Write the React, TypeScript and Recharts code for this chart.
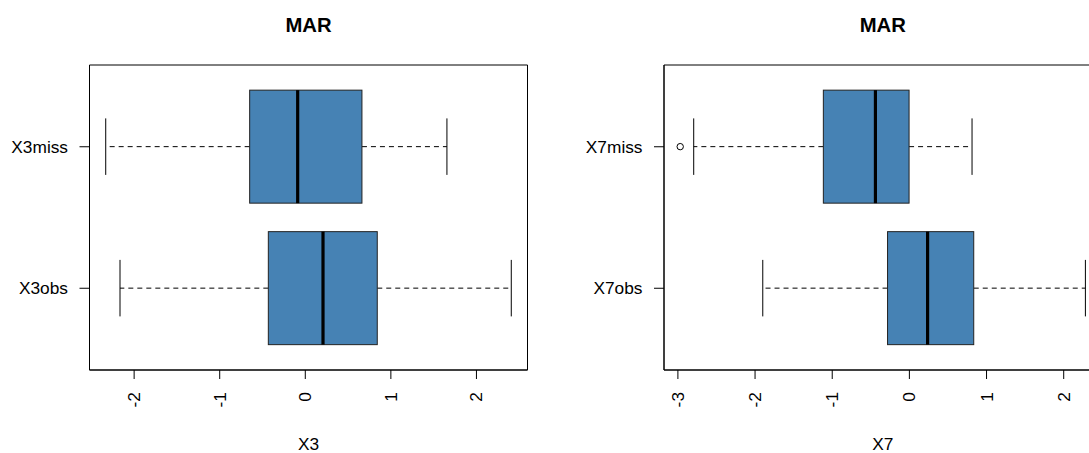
import { Bar, CartesianGrid, ComposedChart, Label, XAxis, YAxis } from "recharts"

// Five-number summaries for each variable, split by missingness of the other
const x3Categories = ["X3miss", "X3obs"]
const x3Min = [-2.332, -2.165]
const x3Q1 = [-0.65, -0.432]
const x3Median = [-0.089, 0.207]
const x3Q3 = [0.662, 0.841]
const x3Max = [1.655, 2.407]
const x3Outliers: number[][] = [[], []]
const x3Ticks = [-2, -1, 0, 1, 2]

const x7Categories = ["X7miss", "X7obs"]
const x7Min = [-2.795, -1.9]
const x7Q1 = [-1.115, -0.283]
const x7Median = [-0.44, 0.236]
const x7Q3 = [-0.004, 0.834]
const x7Max = [0.812, 2.281]
const x7Outliers: number[][] = [[-2.97], []]
const x7Ticks = [-3, -2, -1, 0, 1, 2]

const FONT = "'Liberation Sans', Arial, sans-serif"
const FILL = "#4682B4"

type Row = {
  name: string
  min: number
  q1: number
  median: number
  q3: number
  max: number
  outliers: number[]
  range: [number, number]
}

const buildRows = (
  cats: string[],
  mins: number[],
  q1s: number[],
  meds: number[],
  q3s: number[],
  maxs: number[],
  outs: number[][]
): Row[] =>
  cats.map((name, i) => ({
    name,
    min: mins[i],
    q1: q1s[i],
    median: meds[i],
    q3: q3s[i],
    max: maxs[i],
    outliers: outs[i],
    range: [mins[i], maxs[i]],
  }))

// same 4% padding that base graphics puts around the data range
const paddedDomain = (rows: Row[]): [number, number] => {
  const all = rows.flatMap((r) => [r.min, r.max, ...r.outliers])
  const lo = Math.min(...all)
  const hi = Math.max(...all)
  const pad = (hi - lo) * 0.04
  return [lo - pad, hi + pad]
}

// the bar spans min..max; everything else is placed along that span
const BoxShape = (props: any) => {
  const { x, y, width, height, payload } = props
  const { min, q1, median, q3, max, outliers } = payload as Row
  const toX = (v: number) => x + ((v - min) / (max - min)) * width
  const cy = y + height / 2
  const capTop = y + height / 4
  const capBottom = y + (height * 3) / 4
  const left = toX(q1)
  const right = toX(q3)
  const mid = toX(median)
  return (
    <g>
      <line x1={left} x2={x} y1={cy} y2={cy} stroke="#000" strokeDasharray="5 4" />
      <line x1={right} x2={x + width} y1={cy} y2={cy} stroke="#000" strokeDasharray="5 4" />
      <line x1={x} x2={x} y1={capTop} y2={capBottom} stroke="#000" />
      <line x1={x + width} x2={x + width} y1={capTop} y2={capBottom} stroke="#000" />
      <rect x={left} y={y} width={right - left} height={height} fill={FILL} stroke="#222" />
      <line x1={mid} x2={mid} y1={y} y2={y + height} stroke="#000" strokeWidth={3.2} />
      {outliers.map((o, i) => (
        <circle key={i} cx={toX(o)} cy={cy} r={3.2} fill="none" stroke="#000" />
      ))}
    </g>
  )
}

const RotatedTick = (props: any) => {
  const { x, y, payload } = props
  const bx = x + 6
  return (
    <text
      x={bx}
      y={y}
      transform={`rotate(-90 ${bx} ${y})`}
      textAnchor="end"
      fontSize={17.3}
      fontFamily={FONT}
      fill="#000"
    >
      {payload.value}
    </text>
  )
}

// frame around the plotting region: only its outer edges
const frameRows = ({ offset }: any) => [offset.top, offset.top + offset.height]
const frameCols = ({ offset }: any) => [offset.left, offset.left + offset.width]

type PanelProps = {
  rows: Row[]
  ticks: number[]
  axisLabel: string
  left: number
  yAxisWidth: number
  rightMargin: number
}

function Panel({ rows, ticks, axisLabel, left, yAxisWidth, rightMargin }: PanelProps) {
  const domain = paddedDomain(rows)
  const width = 560
  const plotLeft = yAxisWidth
  const plotWidth = width - yAxisWidth - rightMargin
  return (
    <div style={{ position: "absolute", left, top: 0, width, height: 453 }}>
      <div
        style={{
          position: "absolute",
          left: plotLeft,
          width: plotWidth,
          top: 14.7,
          textAlign: "center",
          fontFamily: FONT,
          fontWeight: "bold",
          fontSize: 20.3,
          lineHeight: "20px",
          color: "#000",
        }}
      >
        MAR
      </div>
      <ComposedChart
        width={width}
        height={453}
        data={rows}
        layout="vertical"
        barCategoryGap="10%"
        margin={{ top: 65, right: rightMargin, bottom: 0, left: 0 }}
        style={{ fontFamily: FONT }}
      >
        <CartesianGrid
          stroke="#000"
          horizontalCoordinatesGenerator={frameRows}
          verticalCoordinatesGenerator={frameCols}
        />
        <XAxis
          type="number"
          domain={domain}
          ticks={ticks}
          allowDataOverflow
          height={83}
          stroke="#000"
          tickSize={9}
          tickMargin={13}
          tick={<RotatedTick />}
        >
          <Label value={axisLabel} position="insideBottom" offset={3} fill="#000" fontSize={17.3} />
        </XAxis>
        <YAxis
          type="category"
          dataKey="name"
          width={yAxisWidth}
          padding={{ top: 11, bottom: 11 }}
          stroke="#000"
          tickSize={10}
          tickMargin={11.5}
          tick={{ fill: "#000", fontSize: 17.3 }}
        />
        <Bar dataKey="range" shape={<BoxShape />} isAnimationActive={false} />
      </ComposedChart>
    </div>
  )
}

export default function App() {
  const x3Rows = buildRows(x3Categories, x3Min, x3Q1, x3Median, x3Q3, x3Max, x3Outliers)
  const x7Rows = buildRows(x7Categories, x7Min, x7Q1, x7Median, x7Q3, x7Max, x7Outliers)
  return (
    <div
      style={{
        position: "fixed",
        left: 0,
        top: 0,
        width: 1089,
        height: 453,
        overflow: "hidden",
        background: "#fff",
      }}
    >
      <Panel rows={x3Rows} ticks={x3Ticks} axisLabel="X3" left={0} yAxisWidth={89.5} rightMargin={32.5} />
      <Panel rows={x7Rows} ticks={x7Ticks} axisLabel="X7" left={560} yAxisWidth={104} rightMargin={18.4} />
    </div>
  )
}
